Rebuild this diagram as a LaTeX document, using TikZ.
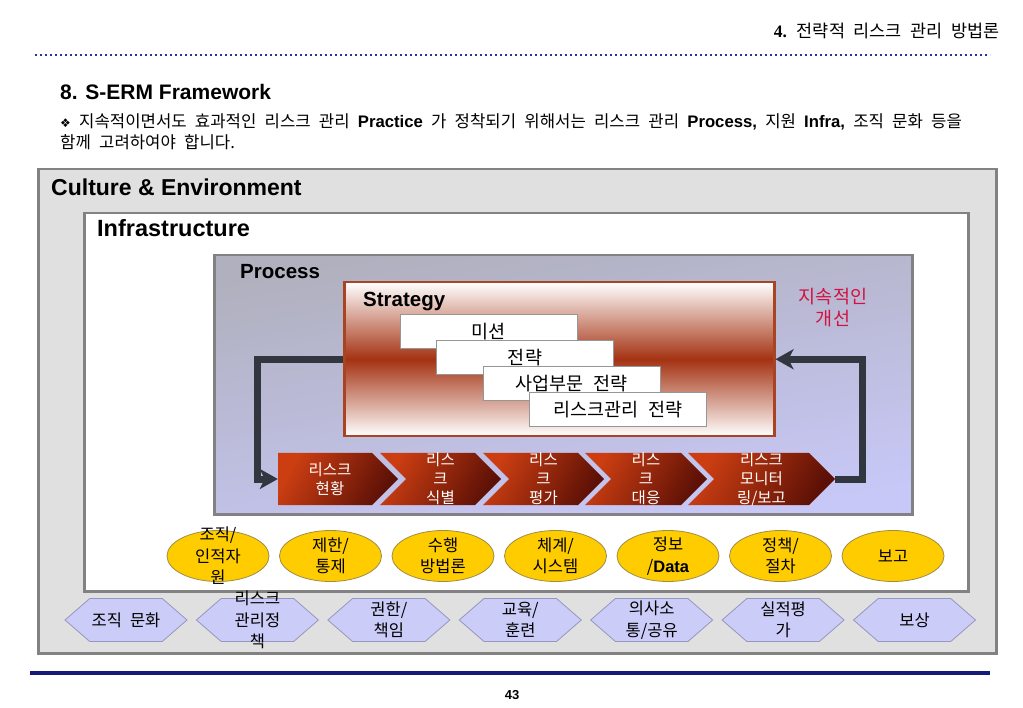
\documentclass[tikz,border=0pt]{standalone}
\usepackage{fontspec}
\setmainfont{Noto Sans CJK KR}[WordSpace=2.2]
\newfontfamily\arialfont{Liberation Sans}
\newfontfamily\timesfont{Liberation Serif}
\newfontfamily\symbolfont{DejaVu Sans}
\usetikzlibrary{arrows.meta,shapes.geometric,shapes.symbols,positioning}

\definecolor{framegray}{RGB}{130,130,130}
\definecolor{culturefill}{RGB}{224,224,224}
\definecolor{procgray}{RGB}{176,176,190}
\definecolor{proclav}{RGB}{200,200,248}
\definecolor{stratred}{RGB}{164,50,18}
\definecolor{stratline}{RGB}{168,68,34}
\definecolor{stepgray}{RGB}{150,150,150}
\definecolor{chevred}{RGB}{204,62,18}
\definecolor{chevdark}{RGB}{92,16,6}
\definecolor{loopgray}{RGB}{50,54,62}
\definecolor{improvered}{RGB}{210,18,64}
\definecolor{ovalgold}{RGB}{255,204,0}
\definecolor{ovalline}{RGB}{160,140,70}
\definecolor{hexlav}{RGB}{204,204,248}
\definecolor{hexline}{RGB}{150,150,190}
\definecolor{dotblue}{RGB}{40,50,160}
\definecolor{navyline}{RGB}{22,26,120}

\begin{document}
\begin{tikzpicture}[
x=1pt, y=-1pt,
every node/.style = {inner sep=0pt, align=center, font=\fontsize{16.7}{21}\selectfont},
heading/.style = {anchor=base west, font=\arialfont\bfseries\fontsize{#1}{#1}\selectfont},
layerbox/.style = {draw=framegray, line width=2.5pt, anchor=north west},
stepbox/.style = {draw=stepgray, line width=1pt, fill=white, minimum width=177, minimum height=34, font=\fontsize{18.5}{20}\selectfont},
chevbase/.style = {shape=signal, signal to=east, signal from=west, signal pointer angle=90, minimum height=52,
  top color=chevred, bottom color=chevdark, shading angle=60},
chev/.style = {chevbase, label={[chevtext]center:{#1}}},
chevfirst/.style = {chevbase, signal from=nowhere, label={[chevtext, xshift=5pt]center:{#1}}},
chevtext/.style = {text=white, font=\fontsize{15.5}{19}\selectfont},
oval/.style = {ellipse, draw=ovalline, line width=0.8pt, fill=ovalgold, minimum width=102, minimum height=51,
  label={[ovaltext]center:{#1}}},
ovaltext/.style = {font=\fontsize{16.5}{21.5}\selectfont},
hex/.style = {shape=signal, signal to=west and east, signal pointer angle=82, draw=hexline, line width=0.8pt,
  fill=hexlav, minimum width=122, minimum height=43, label={[ovaltext]center:{#1}}},
looparrow/.style = {draw=loopgray, line width=7pt, -{Stealth[length=18pt, width=20pt, inset=5pt]}},
]
\useasboundingbox (0,0) rectangle (1023,708);

  \node[anchor=base east, font=\fontsize{17.5}{21}\selectfont] (pagehead) at (1000,38) {{\timesfont\bfseries 4.} 전략적 리스크 관리 방법론};
  \draw[dotblue, line width=2.2pt, dash pattern=on 2.2pt off 2.8pt] (35,55) -- (990,55);
  \node[heading=21] (title) at (60,100) {8. S-ERM Framework};
  \node[anchor=base west] (lead1) at (60,128) {{\symbolfont\fontsize{12}{12}\selectfont ❖} 지속적이면서도 효과적인 리스크 관리 {\arialfont\bfseries Practice} 가 정착되기 위해서는 리스크 관리 {\arialfont\bfseries Process,} 지원 {\arialfont\bfseries Infra,} 조직 문화 등을};
  \node[anchor=base west] (lead2) at (60,149) {함께 고려하여야 합니다.};

  \node[layerbox, fill=culturefill, minimum width=958, minimum height=484] (culture) at (37,168) {};
  \node[heading=23] at (51,196) {Culture \& Environment};
  \node[layerbox, fill=white, minimum width=884, minimum height=378] (infra) at (83,212) {};
  \node[heading=23.5] at (97,237) {Infrastructure};
  \node[layerbox, top color=procgray, bottom color=proclav, shading angle=10,
    minimum width=698, minimum height=259] (process) at (213,254) {};
  \node[heading=20.5] at (240,279) {Process};

  \node[draw=stratline, line width=2.5pt, top color=white, bottom color=white, middle color=stratred,
    anchor=north west, minimum width=430, minimum height=154] (strategy) at (343,281) {};
  \node[heading=20.5] at (363,307) {Strategy};
  \node[stepbox] (mission) at (488.5,332) {미션};
  \node[stepbox] (strat) at (525,358) {전략};
  \node[stepbox] (bizstrat) at (571.5,384) {사업부문 전략};
  \node[stepbox] (riskstrat) at (618,410) {리스크관리 전략};
  \node[text=improvered, font=\fontsize{18.5}{22}\selectfont] (improve) at (833,308) {지속적인\\개선};

  \node[chevfirst={리스크\\현황}, minimum width=120] (chev1) at (325,479) {};
  \node[chev={리스\\크\\식별}, minimum width=121] (chev2) at (440.5,479) {};
  \node[chev={리스\\크\\평가}, minimum width=121] (chev3) at (543.5,479) {};
  \node[chev={리스\\크\\대응}, minimum width=122] (chev4) at (646,479) {};
  \node[chev={리스크\\모니터\\링/보고}, minimum width=147] (chev5) at (761.5,479) {};

  \draw[looparrow] (strategy.west) -- ++(-86,0) |- (chev1.west);
  \draw[looparrow] (chev5.east) -- ++(27,0) |- (strategy.east);

  \node[oval={조직/\\인적자\\원}] (ell1) at (218,556) {};
  \node[oval={제한/\\통제}, right=9.7pt of ell1] (ell2) {};
  \node[oval={수행\\방법론}, right=9.7pt of ell2] (ell3) {};
  \node[oval={체계/\\시스템}, right=9.7pt of ell3] (ell4) {};
  \node[oval={정보\\/{\arialfont\bfseries Data}}, right=9.7pt of ell4] (ell5) {};
  \node[oval={정책/\\절차}, right=9.7pt of ell5] (ell6) {};
  \node[oval={보고}, right=9.7pt of ell6] (ell7) {};

  \node[hex={조직 문화}] (hex1) at (126,620) {};
  \node[hex={리스크\\관리정\\책}, right=8.2pt of hex1] (hex2) {};
  \node[hex={권한/\\책임}, right=8.2pt of hex2] (hex3) {};
  \node[hex={교육/\\훈련}, right=8.2pt of hex3] (hex4) {};
  \node[hex={의사소\\통/공유}, right=8.2pt of hex4] (hex5) {};
  \node[hex={실적평\\가}, right=8.2pt of hex5] (hex6) {};
  \node[hex={보상}, right=8.2pt of hex6] (hex7) {};

  \fill[navyline] (30,671) rectangle (990,675);
  \node[font=\arialfont\bfseries\fontsize{13}{13}\selectfont] (pageno) at (512,695) {43};
\end{tikzpicture}
\end{document}
